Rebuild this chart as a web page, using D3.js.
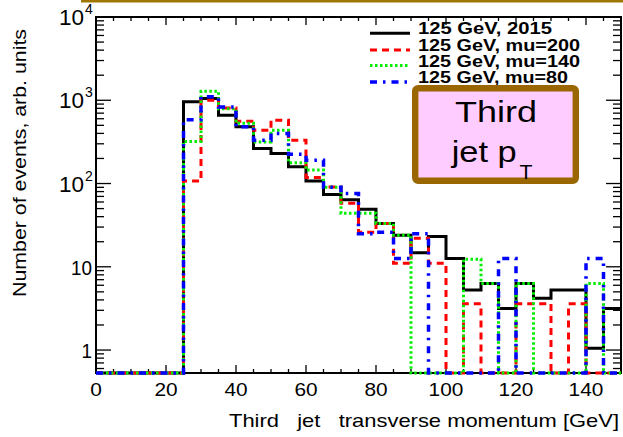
<!DOCTYPE html>
<html><head><meta charset="utf-8">
<script src="https://cdn.jsdelivr.net/npm/d3@7/dist/d3.min.js"></script>
<style>html,body{margin:0;padding:0;background:#fff;} svg{display:block;} text{font-family:"Liberation Sans","Arimo",Arial,Helvetica,sans-serif;}</style>
</head><body><svg id="c" width="623" height="437"></svg>
<script>
// ---- data (bin low edges in GeV, 5 GeV bins) ----
const binLowEdges = [0,5,10,15,20,25,30,35,40,45,50,55,60,65,70,75,80,85,90,95,100,105,110,115,120,125,130,135,140,145];
const binWidth = 5;
const seriesNames = ["125 GeV, 2015","125 GeV, mu=200","125 GeV, mu=140","125 GeV, mu=80"];
const h2015  = [0,0,0,0,0, 957,1050,662,480,264, 230,159,107,74,64, 49,33,24,14.7,23.1, 12.6,5.25,6.3,3.15,6.3, 4.2,5.25,5.25,1.05,3.15];
const hMu200 = [0,0,0,0,0, 107,1000,810,560,437, 577,332,118,91,58, 26,33,11,22,11, 0,3.6,0,0,3.6, 3.6,0,3.6,0,0];
const hMu140 = [0,0,0,0,0, 320,1280,790,530,316, 437,178,145,90,44, 44,33,24,0,0, 0,12.3,6.3,0,6.3, 0,0,0,6.3,0];
const hMu80  = [0,0,0,0,0, 585,1100,830,480,330, 400,225,190,90,76, 25,26,12.6,25,0, 0,0,0,12.6,0, 0,0,0,12.6,0];
const xTickValues = [0,20,40,60,80,100,120,140];
const xTickLabels = ["0","20","40","60","80","100","120","140"];
const yMajorValues = [1,10,100,1000,10000];
const yTickLabels = ["1","10","10^2","10^3","10^4"];
const xTitle = "Third   jet   transverse momentum [GeV]";
const yTitle = "Number of events, arb. units";

// ---- layout ----
const L=96, R=621, T=17, B=373;
const FONT = "Liberation Sans, Arimo, Arial, Helvetica, sans-serif";
const x = d3.scaleLinear().domain([0,150]).range([L,R]);
const y = d3.scaleLog().domain([0.53,10000]).range([B,T]).clamp(true);
const svg = d3.select("#c");

// top brown strip (cut-off frame above)
svg.append("rect").attr("x",81).attr("y",0).attr("width",542).attr("height",2.5).attr("fill","#9f7700");

const ax = svg.append("g").attr("stroke","#000").attr("stroke-width",1.3).attr("fill","none");
// x ticks (major 20, minor 5)
const xMinor = d3.range(0,151,5);
xMinor.forEach(v=>{
  const major = v%20===0;
  const len = major?8:4;
  ax.append("line").attr("x1",x(v)).attr("x2",x(v)).attr("y1",B).attr("y2",B-len);
  ax.append("line").attr("x1",x(v)).attr("x2",x(v)).attr("y1",T).attr("y2",T+len);
});
// y ticks (log)
const yTicksAll = [];
[0.1,1,10,100,1000].forEach(d=>{ for(let k=1;k<10;k++){ const v=d*k; if(v>=0.53 && v<=10000) yTicksAll.push(v);} });
yTicksAll.push(10000);
yTicksAll.forEach(v=>{
  const major = yMajorValues.includes(v);
  const len = major?15:8;
  ax.append("line").attr("x1",L).attr("x2",L+len).attr("y1",y(v)).attr("y2",y(v));
  ax.append("line").attr("x1",R).attr("x2",R-len).attr("y1",y(v)).attr("y2",y(v));
});
// frame
svg.append("rect").attr("x",L).attr("y",T).attr("width",R-L).attr("height",B-T)
  .attr("fill","none").attr("stroke","#000").attr("stroke-width",2);

const tg = svg.append("g").attr("font-family",FONT).attr("fill","#000");
// x tick labels
xTickValues.forEach((v,i)=>{
  const s = xTickLabels[i];
  tg.append("text").attr("x",x(v)).attr("y",395.5).attr("text-anchor","middle")
    .attr("font-size",17.7).attr("textLength",s.length*11.6).attr("lengthAdjust","spacingAndGlyphs").text(s);
});
// y tick labels
yMajorValues.forEach((v,i)=>{
  const s = yTickLabels[i];
  const yy = y(v);
  if(s.includes("^")){
    const [b,e] = s.split("^");
    tg.append("text").attr("x",84).attr("y",yy+8).attr("text-anchor","end").attr("font-size",22)
      .attr("textLength",25).attr("lengthAdjust","spacingAndGlyphs").text(b);
    tg.append("text").attr("x",85).attr("y",yy-3).attr("font-size",14).text(e);
  } else {
    tg.append("text").attr("x",92).attr("y",yy+8).attr("text-anchor","end").attr("font-size",21)
      .attr("textLength",s.length*10.5).attr("lengthAdjust","spacingAndGlyphs").text(s);
  }
});
// axis titles
tg.append("text").attr("x",229).attr("y",427).attr("font-size",18.5).attr("xml:space","preserve")
  .style("white-space","pre").attr("textLength",390).attr("lengthAdjust","spacingAndGlyphs").text(xTitle);
tg.append("text").attr("transform","translate(26,297) rotate(-90)").attr("font-size",19)
  .attr("textLength",268).attr("lengthAdjust","spacingAndGlyphs").text(yTitle);

// histograms
const styles = [
  {data:h2015,  color:"#000000", width:3,   dash:null},
  {data:hMu200, color:"#ff0000", width:3,   dash:"7,5"},
  {data:hMu140, color:"#00ee00", width:3,   dash:"2.5,2.5"},
  {data:hMu80,  color:"#0000ff", width:3.5, dash:"7,6,2.5,6"}
];
function histPath(vals){
  let p = `M${x(0)},${B}`;
  vals.forEach((v,i)=>{
    const yy = v>0 ? y(v) : B;
    p += `L${x(binLowEdges[i])},${yy}L${x(binLowEdges[i]+binWidth)},${yy}`;
  });
  return p;
}
styles.forEach(s=>{
  svg.append("path").attr("d",histPath(s.data)).attr("fill","none").attr("stroke",s.color)
    .attr("stroke-width",s.width).attr("stroke-dasharray",s.dash).attr("stroke-linejoin","miter");
});

// legend
const legLineY = [33.3,50,65.5,82];
const legTextY = [34,50.7,66.7,83.2];
const legLen = [134,162,162,150];
const lg = svg.append("g").attr("font-family",FONT);
styles.forEach((s,i)=>{
  lg.append("line").attr("x1",370).attr("x2",410).attr("y1",legLineY[i]).attr("y2",legLineY[i])
    .attr("stroke",s.color).attr("stroke-width",s.width).attr("stroke-dasharray",s.dash);
  lg.append("text").attr("x",418).attr("y",legTextY[i]).attr("font-size",16).attr("font-weight","bold")
    .attr("textLength",legLen[i]).attr("lengthAdjust","spacingAndGlyphs").text(seriesNames[i]);
});

// label box
const bg = svg.append("g").attr("font-family",FONT);
bg.append("rect").attr("x",415.2).attr("y",88.2).attr("width",160.6).attr("height",92.6).attr("rx",3)
  .attr("fill","#ffccff").attr("stroke","#996600").attr("stroke-width",6.4);
bg.append("text").attr("x",455).attr("y",121.7).attr("font-size",30)
  .attr("textLength",82).attr("lengthAdjust","spacingAndGlyphs").text("Third");
bg.append("text").attr("x",451.7).attr("y",161.7).attr("font-size",30)
  .attr("textLength",65).attr("lengthAdjust","spacingAndGlyphs").text("jet p");
bg.append("text").attr("x",519.5).attr("y",178.5).attr("font-size",20)
  .attr("textLength",13).attr("lengthAdjust","spacingAndGlyphs").text("T");
</script></body></html>
